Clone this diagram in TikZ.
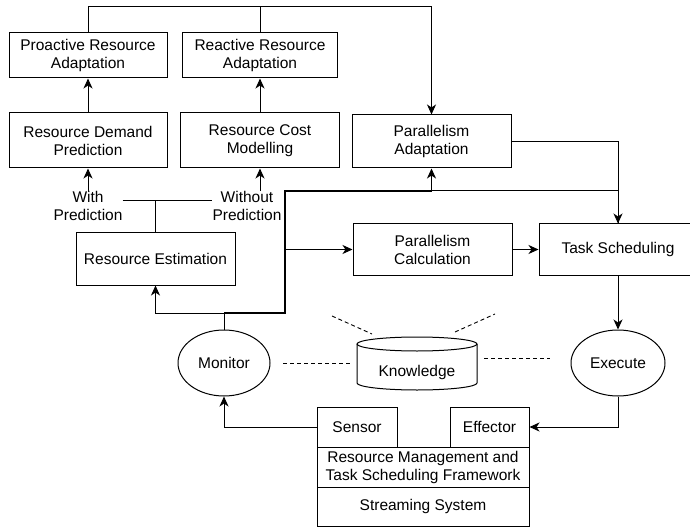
\documentclass[tikz,border=0pt]{standalone}
\usepackage{fontspec}
\setmainfont{Liberation Sans}
\usetikzlibrary{arrows.meta,shapes.geometric}
\begin{document}
\begin{tikzpicture}[x=1pt,y=-1pt,
  every node/.style={font=\fontsize{15.5}{18}\selectfont, align=center, inner sep=0pt},
  box/.style={draw, line width=1pt, rectangle},
  oval/.style={draw, line width=1pt, ellipse},
  conn/.style={line width=1pt},
  arr/.style={conn, -{Stealth[length=10pt,width=9pt,inset=3pt]}},
  dsh/.style={line width=0.9pt, dash pattern=on 4pt off 3pt}]
\useasboundingbox (0,0) rectangle (690,529);
% boxes
\node[box, minimum width=158, minimum height=45] (pra) at (88,55.5) {Proactive Resource\\Adaptation};
\node[box, minimum width=155, minimum height=45] (rra) at (260,55.5) {Reactive Resource\\Adaptation};
\node[box, minimum width=158, minimum height=55] (rdp) at (88,140.5) {Resource Demand\\Prediction};
\node[box, minimum width=159, minimum height=55] (rcm) at (260,140.5) {Resource Cost\\Modelling};
\node[box, minimum width=159, minimum height=53] (pa) at (431.5,141.5) {Parallelism\\Adaptation};
\node[box, minimum width=159, minimum height=52] (re) at (155.5,259) {Resource Estimation};
\node[box, minimum width=159, minimum height=51] (pc) at (432.5,249.5) {Parallelism\\Calculation};
\node[box, minimum width=158, minimum height=51] (ts) at (618,249.5) {Task Scheduling};
\node[oval, minimum width=92, minimum height=66] (mon) at (224,363) {Monitor};
\node[oval, minimum width=94, minimum height=66] (exe) at (618,363) {Execute};
% labels
\node (wp) at (88,206) {With\\Prediction};
\node (wop) at (247,206) {Without\\Prediction};
% knowledge cylinder
\draw[line width=1pt, fill=white] (357,344) -- (357,383) arc[start angle=180,end angle=0,x radius=60,y radius=7] -- (477,344);
\draw[line width=1pt] (417,344) ellipse[x radius=60,y radius=7];
\node (know) at (417,372) {Knowledge};
% bottom stack
\node[box, minimum width=80, minimum height=40] (sen) at (357,427) {Sensor};
\node[box, minimum width=79, minimum height=40] (eff) at (489.5,427) {Effector};
\node[box, minimum width=212, minimum height=40] (rm) at (423,467) {Resource Management and\\Task Scheduling Framework};
\node[box, minimum width=212, minimum height=39] (ss) at (423,506.5) {Streaming System};
\draw[line width=1pt] (317,407) -- (317,447);
% coordinates
\coordinate (t) at (431.5,7);
\coordinate (j) at (155.5,201);
\coordinate (mj) at (224,313);
\coordinate (v) at (285,191);
\coordinate (h) at (285,249.5);
% connectors
\draw[arr] (pra.north) |- (t) -- (pa.north);
\draw[conn] (rra.north) -- (rra.north |- t);
\draw[arr] (rdp.north) -- (pra.south);
\draw[arr] (rcm.north) -- (rra.south);
\draw[arr] (wp.north) -- (rdp.south);
\draw[arr] (rcm.south |- wop.north) -- (rcm.south);
\draw[conn] (wp.east |- j) -- (wop.west |- j);
\draw[conn] (j) -- (re.north);
\draw[arr] (mon.north) -- (mj) -| (re.south);
\draw[conn] (v) -| (ts.north);
\draw[arr, line width=1.6pt] (mj) -| (v) -| (pa.south);
\draw[arr] (pa.east) -| (ts.north);
\draw[arr] (h) -- (pc.west);
\draw[arr] (pc.east) -- (ts.west);
\draw[arr] (ts.south) -- (exe.north);
\draw[arr] (exe.south) |- (eff.east);
\draw[arr] (sen.west) -| (mon.south);
% dashed
\draw[dsh] (283,363) -- (350,363);
\draw[dsh] (484,358) -- (550,358);
\draw[dsh] (332,316) -- (372,334);
\draw[dsh] (455,332) -- (495,314);
\end{tikzpicture}
\end{document}
